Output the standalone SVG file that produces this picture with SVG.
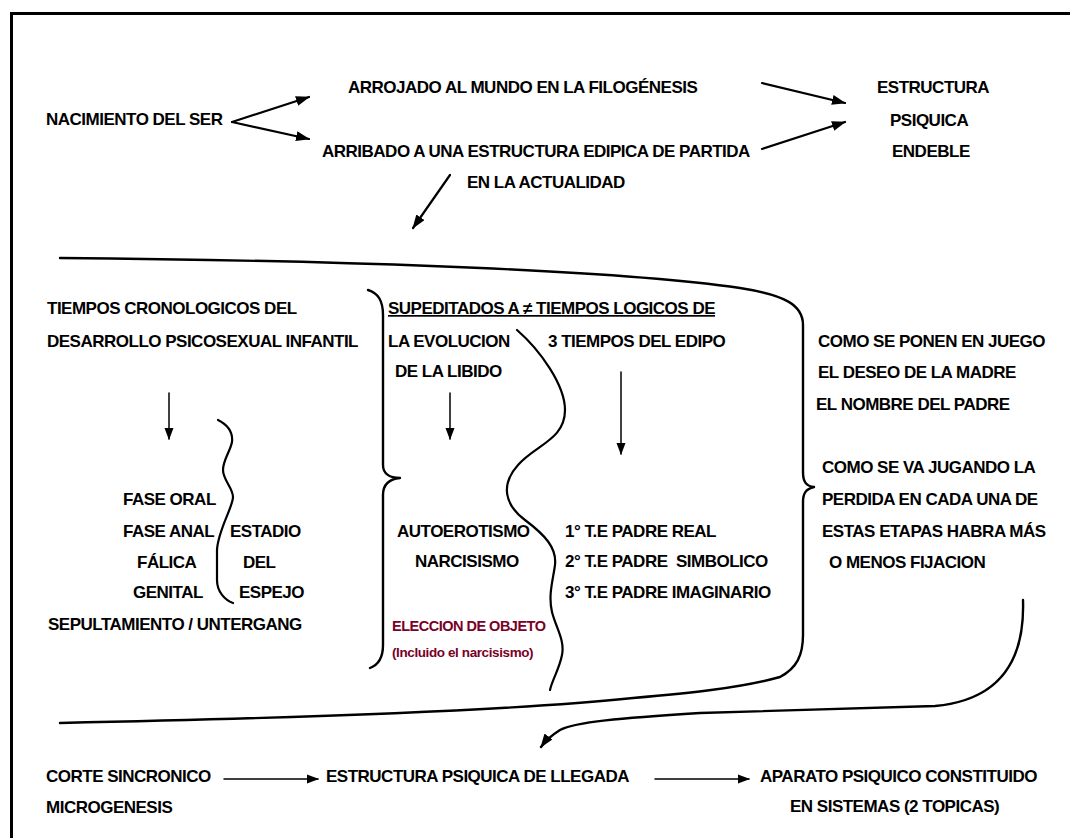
<svg xmlns="http://www.w3.org/2000/svg" width="1070" height="838" viewBox="0 0 1070 838">
<defs>
<style>
.t{font-family:"Liberation Sans",Arial,sans-serif;font-weight:bold;font-size:17px;letter-spacing:-0.5px;fill:#000;white-space:pre}
.r{fill:#7a0026}
.s1{font-size:14.5px}
.s2{font-size:13.5px;letter-spacing:-0.4px}
.ln{fill:none;stroke:#000;stroke-linecap:round;stroke-linejoin:round}
.a2{stroke-width:2.2}
.a1{stroke-width:1.5}
.b{stroke-width:2.4}
</style>
<marker id="hb" markerUnits="userSpaceOnUse" markerWidth="14" markerHeight="10" refX="13" refY="5" orient="auto"><path d="M0,0 L14,5 L0,10 z" fill="#000"/></marker>
<marker id="hs" markerUnits="userSpaceOnUse" markerWidth="12" markerHeight="10" refX="11" refY="5" orient="auto"><path d="M0,0.5 L12,5 L0,9.5 z" fill="#000"/></marker>
</defs>
<rect width="1070" height="838" fill="#fff"/>
<rect x="11.5" y="13.5" width="1100" height="900" fill="none" stroke="#000" stroke-width="3"/>

<g id="connectors">
<path class="ln a2" d="M232,122 L309,97" marker-end="url(#hb)"/>
<path class="ln a2" d="M232,122 L309,139" marker-end="url(#hb)"/>
<path class="ln a2" d="M762,83 L845,103" marker-end="url(#hb)"/>
<path class="ln a2" d="M762,149 L845,122" marker-end="url(#hb)"/>
<path class="ln a2" d="M450,175 L413,228" marker-end="url(#hb)"/>
<path class="ln a1" d="M169,393 L169,439" marker-end="url(#hs)"/>
<path class="ln a1" d="M450,393 L450,439" marker-end="url(#hs)"/>
<path class="ln a1" d="M621,372 L621,454" marker-end="url(#hs)"/>
<path class="ln a1" d="M224,779 L318,779" marker-end="url(#hs)"/>
<path class="ln a1" d="M655,779 L749,779" marker-end="url(#hs)"/>
<path class="ln b" d="M60,258 C300,260 600,268 740,288 C785,295 803,305 803,325 L803,472 C803,482 806,486 814,487 C806,489 803,493 803,502 L803,635 C803,655 797,668 780,677 C740,688 690,693 633,698 C520,710 300,718 60,723"/>
<path class="ln b" d="M368,290 C378,293 383,300 383,315 L383,465 C383,474 390,478 400,478 C390,479 383,484 383,495 L383,645 C383,658 378,665 370,668"/>
<path class="ln a2" d="M218,420 C228,425 233,433 232,442 C230,452 223,460 223,470 C223,480 233,488 233,497 C233,507 218,530 217,550 L217,580 C217,592 225,600 233,603"/>
<path class="ln a2" d="M517,330 C540,350 565,385 565,410 C565,440 535,445 518,465 C500,485 505,505 525,520 C545,535 557,548 555,565 C553,580 548,595 552,612 C556,628 565,640 562,655 C559,670 552,680 550,690"/>
<path class="ln b" d="M1023,600 C1025,660 1000,700 935,706 L700,713 C620,718 575,722 560,730 C552,735 546,740 541,747" marker-end="url(#hb)"/>
</g>

<g id="n-nacimiento"><text class="t" x="46" y="125">NACIMIENTO DEL SER</text></g>
<g id="n-arrojado"><text class="t" x="348" y="93">ARROJADO AL MUNDO EN LA FILOGÉNESIS</text></g>
<g id="n-arribado"><text class="t" x="322" y="157">ARRIBADO A UNA ESTRUCTURA EDIPICA DE PARTIDA</text><text class="t" x="467" y="188">EN LA ACTUALIDAD</text></g>
<g id="n-estructura"><text class="t" x="877" y="93">ESTRUCTURA</text><text class="t" x="890" y="126">PSIQUICA</text><text class="t" x="892" y="157">ENDEBLE</text></g>

<g id="n-tiempos"><text class="t" x="47" y="314">TIEMPOS CRONOLOGICOS DEL</text><text class="t" x="47" y="347">DESARROLLO PSICOSEXUAL INFANTIL</text></g>
<g id="n-fases"><text class="t" x="123" y="505">FASE ORAL</text><text class="t" x="123" y="537">FASE ANAL</text><text class="t" x="137" y="568">FÁLICA</text><text class="t" x="133" y="598">GENITAL</text></g>
<g id="n-estadio"><text class="t" x="230" y="537">ESTADIO</text><text class="t" x="243" y="568">DEL</text><text class="t" x="239" y="598">ESPEJO</text></g>
<g id="n-sepultamiento"><text class="t" x="48" y="630">SEPULTAMIENTO / UNTERGANG</text></g>

<g id="n-supeditados"><text class="t" x="388" y="314" text-decoration="underline">SUPEDITADOS A ≠ TIEMPOS LOGICOS DE</text></g>
<g id="n-libido"><text class="t" x="388" y="347">LA EVOLUCION</text><text class="t" x="395" y="377">DE LA LIBIDO</text></g>
<g id="n-edipo"><text class="t" x="548" y="347">3 TIEMPOS DEL EDIPO</text></g>
<g id="n-autoerotismo"><text class="t" x="397" y="537">AUTOEROTISMO</text><text class="t" x="415" y="567">NARCISISMO</text></g>
<g id="n-eleccion"><text class="t r s1" x="392" y="631">ELECCION DE OBJETO</text><text class="t r s2" x="392" y="657">(Incluido el narcisismo)</text></g>
<g id="n-padres"><text class="t" x="565" y="537">1° T.E PADRE REAL</text><text class="t" x="565" y="567">2° T.E PADRE  SIMBOLICO</text><text class="t" x="565" y="598">3° T.E PADRE IMAGINARIO</text></g>

<g id="n-deseo"><text class="t" x="818" y="347">COMO SE PONEN EN JUEGO</text><text class="t" x="818" y="378">EL DESEO DE LA MADRE</text><text class="t" x="816" y="410">EL NOMBRE DEL PADRE</text></g>
<g id="n-perdida"><text class="t" x="822" y="473">COMO SE VA JUGANDO LA</text><text class="t" x="822" y="505">PERDIDA EN CADA UNA DE</text><text class="t" x="822" y="537">ESTAS ETAPAS HABRA MÁS</text><text class="t" x="829" y="568">O MENOS FIJACION</text></g>

<g id="n-corte"><text class="t" x="46" y="782">CORTE SINCRONICO</text><text class="t" x="46" y="813">MICROGENESIS</text></g>
<g id="n-llegada"><text class="t" x="326" y="782">ESTRUCTURA PSIQUICA DE LLEGADA</text></g>
<g id="n-aparato"><text class="t" x="760" y="782">APARATO PSIQUICO CONSTITUIDO</text><text class="t" x="790" y="812">EN SISTEMAS (2 TOPICAS)</text></g>
</svg>
